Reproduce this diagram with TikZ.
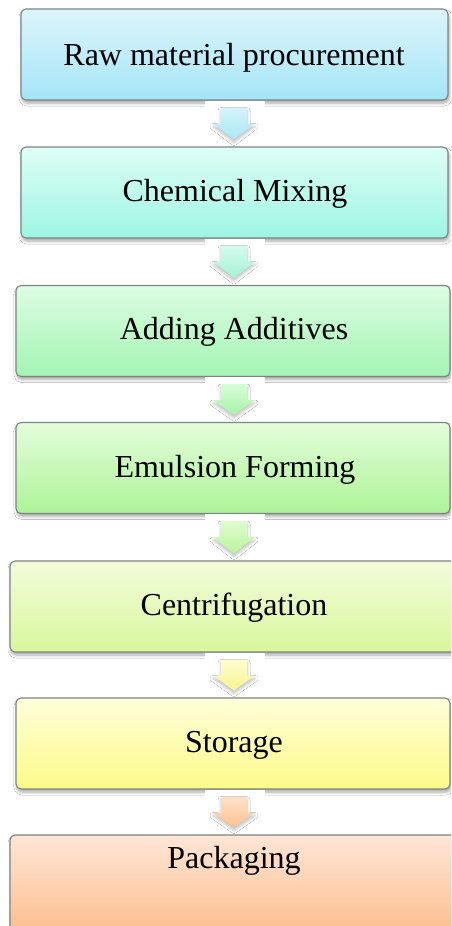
\documentclass[tikz,border=0pt]{standalone}
\usepackage{fontspec}
\setmainfont{Liberation Serif}
\usetikzlibrary{calc,shadows.blur}
\definecolor{boxline}{HTML}{7C8482}
\definecolor{cat}{HTML}{DDF5FC}\definecolor{cab}{HTML}{A4E5F7}
\definecolor{cbt}{HTML}{DEFEF6}\definecolor{cbb}{HTML}{9EF5E3}
\definecolor{cct}{HTML}{DDFDE3}\definecolor{ccb}{HTML}{A2F4B2}
\definecolor{cdt}{HTML}{E3FDDB}\definecolor{cdb}{HTML}{ADF497}
\definecolor{cet}{HTML}{F2FCDB}\definecolor{ceb}{HTML}{D9F79C}
\definecolor{cft}{HTML}{FFFEDA}\definecolor{cfb}{HTML}{FBFB87}
\definecolor{cgt}{HTML}{FEE6D6}\definecolor{cgb}{HTML}{FCBB88}
\definecolor{aat}{HTML}{D5F3FB}\definecolor{aab}{HTML}{A8E8F5}
\definecolor{abt}{HTML}{D5FBEF}\definecolor{abb}{HTML}{A5F2D5}
\definecolor{act}{HTML}{D8FCD8}\definecolor{acb}{HTML}{A6F4A8}
\definecolor{adt}{HTML}{E0FCD0}\definecolor{adb}{HTML}{B8F49A}
\definecolor{aet}{HTML}{FEFDD0}\definecolor{aeb}{HTML}{F8F590}
\definecolor{aft}{HTML}{FEE2C8}\definecolor{afb}{HTML}{FCC190}
\newcommand\flowarrow[3]{%
  \fill[white] let \p1=(#1.south -| mid) in (\x1-29pt,\y1-0.4pt) rectangle (\x1+31pt,\y1-16pt);
  \path[arrowbody, top color=#3t, bottom color=#3b] let \p1=(#1.south -| mid), \p2=(#2.north -| mid) in
    (\x1-13pt,\y1-7pt) -- (\x1+13pt,\y1-7pt) -- (\x1+13pt,\y1-23pt) -- (\x1+21pt,\y1-23pt)
    -- (\x2,\y2+7pt) -- (\x1-21pt,\y1-23pt) -- (\x1-13pt,\y1-23pt) -- cycle;
}
\begin{document}
\begin{tikzpicture}[x=1pt,y=-1pt,
  stepbox/.style={draw=boxline, line width=1.1pt, rounded corners=5pt, minimum height=91pt, inner sep=0pt,
    blur shadow={shadow xshift=1pt, shadow yshift=-3pt, shadow blur steps=6, shadow opacity=35, shadow blur radius=3pt}},
  steptext/.style={font=\fontsize{32}{38}\selectfont, anchor=base, inner sep=0pt},
  arrowbody/.style={blur shadow={shadow xshift=0pt, shadow yshift=-3pt, shadow blur steps=5, shadow opacity=25, shadow blur radius=3pt}}]
\path[use as bounding box, clip] (0,0) rectangle (451,926);
\fill[white] (0,0) rectangle (451,926);
\coordinate (mid) at (234,0);
\node[stepbox, top color=cat, bottom color=cab, minimum width=427pt] (b1) at (234.5,54.5) {};
\node[stepbox, top color=cbt, bottom color=cbb, minimum width=427pt] (b2) at (234.5,192.5) {};
\node[stepbox, top color=cct, bottom color=ccb, minimum width=434pt] (b3) at (233,331) {};
\node[stepbox, top color=cdt, bottom color=cdb, minimum width=434pt] (b4) at (233,468) {};
\node[stepbox, top color=cet, bottom color=ceb, minimum width=455pt] (b5) at (237.5,606.5) {};
\node[stepbox, top color=cft, bottom color=cfb, minimum width=434pt] (b6) at (233,743.5) {};
\node[stepbox, top color=cgt, bottom color=cgb, minimum width=455pt, minimum height=105pt] (b7) at (237.5,887.5) {};
\node[steptext] (t1) at (234,65) {Raw material procurement};
\node[steptext] (t2) at (235,201) {Chemical Mixing};
\node[steptext] (t3) at (234,339) {Adding Additives};
\node[steptext] (t4) at (235,477) {Emulsion Forming};
\node[steptext] (t5) at (234,615) {Centrifugation};
\node[steptext] (t6) at (234,752) {Storage};
\node[steptext] (t7) at (234,868) {Packaging};
\flowarrow{b1}{b2}{aa}
\flowarrow{b2}{b3}{ab}
\flowarrow{b3}{b4}{ac}
\flowarrow{b4}{b5}{ad}
\flowarrow{b5}{b6}{ae}
\flowarrow{b6}{b7}{af}
\end{tikzpicture}
\end{document}
